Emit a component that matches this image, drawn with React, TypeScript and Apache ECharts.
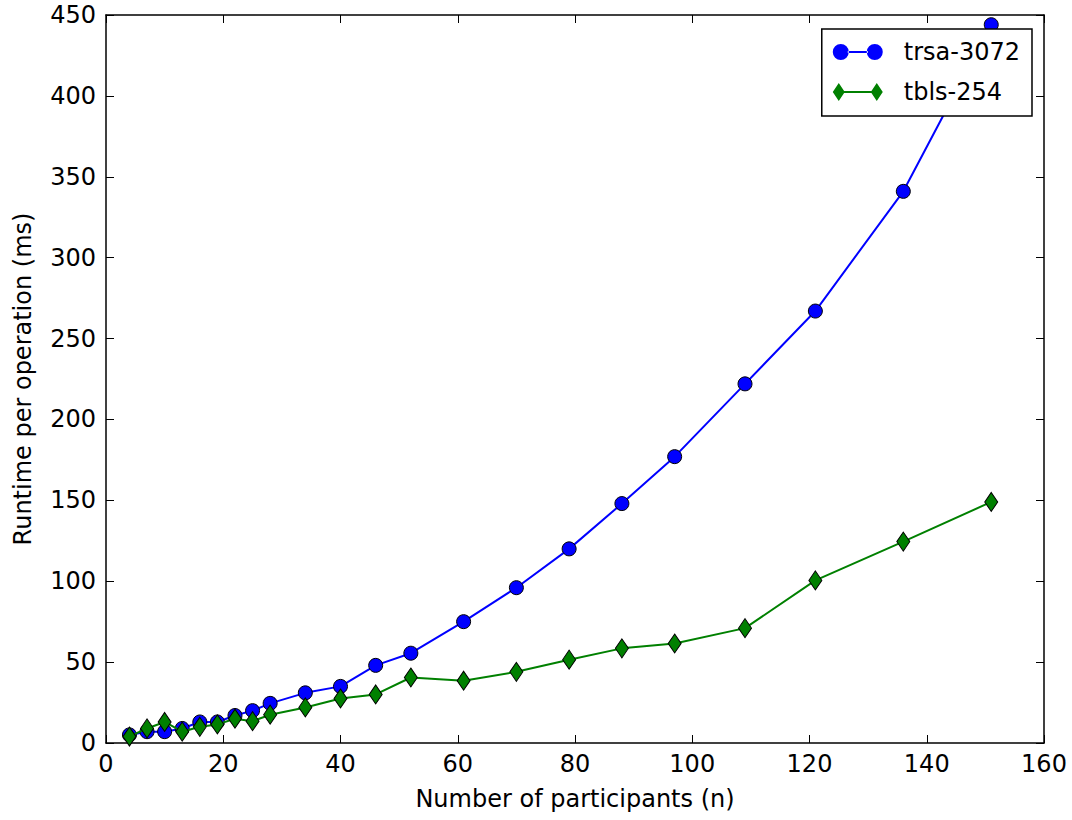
import React, { useEffect, useRef } from "react";
import * as echarts from "echarts";

const participants = [4, 7, 10, 13, 16, 19, 22, 25, 28, 34, 40, 46, 52, 61, 70, 79, 88, 97, 109, 121, 136, 151];
const trsa3072 = [5, 7, 7, 9, 13, 13, 17, 20, 24.5, 31, 35, 48, 55.5, 75, 96, 120, 148, 177, 222, 267, 341, 444];
const tbls254 = [4, 9, 13, 7, 10, 11.5, 15, 13.5, 17.5, 22, 27.5, 30, 40.5, 38.5, 44, 51.5, 58.5, 61.5, 71, 100.5, 124.5, 149];
const xTicks = { min: 0, max: 160, interval: 20 };
const yTicks = { min: 0, max: 450, interval: 50 };

const FONT = "DejaVu Sans";

const circleIcon =
  "path://M0,9 A8,8 0 1,0 16,9 A8,8 0 1,0 0,9 Z M15,8.1 L35,8.1 L35,9.9 L15,9.9 Z M34,9 A8,8 0 1,0 50,9 A8,8 0 1,0 34,9 Z";
const diamondIcon =
  "path://M6,0 L12,9 L6,18 L0,9 Z M11,8.1 L39,8.1 L39,9.9 L11,9.9 Z M44,0 L50,9 L44,18 L38,9 Z";

export default function App() {
  const ref = useRef<HTMLDivElement>(null);
  useEffect(() => {
    if (!ref.current) return;
    const chart = echarts.init(ref.current, null, { renderer: "svg" });
    const axisLine = { show: true, onZero: false, lineStyle: { color: "#000", width: 1.5 } };
    const axisTick = { show: true, inside: true, length: 8, lineStyle: { color: "#000", width: 1 } };
    const label = { color: "#000", fontSize: 24, fontFamily: FONT };
    chart.setOption({
      animation: false,
      backgroundColor: "#fff",
      grid: { left: 106, top: 15, right: 28, bottom: 77, containLabel: false },
      legend: {
        orient: "vertical",
        right: 40,
        top: 29,
        backgroundColor: "#fff",
        borderColor: "#000",
        borderWidth: 1.5,
        borderRadius: 0,
        padding: [11, 12, 12, 11],
        itemGap: 16,
        itemWidth: 50,
        itemHeight: 18,
        textStyle: { ...label, padding: [0, 0, 0, 16] },
        data: [
          { name: "trsa-3072", icon: circleIcon, itemStyle: { color: "#0000ff", borderWidth: 0 } },
          { name: "tbls-254", icon: diamondIcon, itemStyle: { color: "#008000", borderWidth: 0 } },
        ],
      },
      xAxis: [
        {
          type: "value",
          ...xTicks,
          name: "Number of participants (n)",
          nameLocation: "middle",
          nameGap: 44,
          nameTextStyle: label,
          axisLine,
          axisTick,
          axisLabel: { ...label, margin: 9 },
          splitLine: { show: false },
        },
        {
          type: "value",
          ...xTicks,
          position: "top",
          axisLine,
          axisTick,
          axisLabel: { show: false },
          splitLine: { show: false },
        },
      ],
      yAxis: [
        {
          type: "value",
          ...yTicks,
          name: "Runtime per operation (ms)",
          nameLocation: "middle",
          nameGap: 71,
          nameTextStyle: label,
          axisLine,
          axisTick,
          axisLabel: { ...label, margin: 10 },
          splitLine: { show: false },
        },
        {
          type: "value",
          ...yTicks,
          position: "right",
          axisLine,
          axisTick,
          axisLabel: { show: false },
          splitLine: { show: false },
        },
      ],
      series: [
        {
          name: "trsa-3072",
          type: "line",
          data: participants.map((x, i) => [x, trsa3072[i]]),
          symbol: "circle",
          symbolSize: 14,
          lineStyle: { color: "#0000ff", width: 2 },
          itemStyle: { color: "#0000ff", borderColor: "#000", borderWidth: 1 },
          z: 3,
        },
        {
          name: "tbls-254",
          type: "line",
          data: participants.map((x, i) => [x, tbls254[i]]),
          symbol: "diamond",
          symbolSize: [13, 19],
          lineStyle: { color: "#008000", width: 2 },
          itemStyle: { color: "#008000", borderColor: "#000", borderWidth: 1 },
          z: 4,
        },
      ],
    });
    return () => chart.dispose();
  }, []);
  return (
    <div
      ref={ref}
      style={{ position: "fixed", left: 0, top: 0, width: 1072, height: 820 }}
    />
  );
}
